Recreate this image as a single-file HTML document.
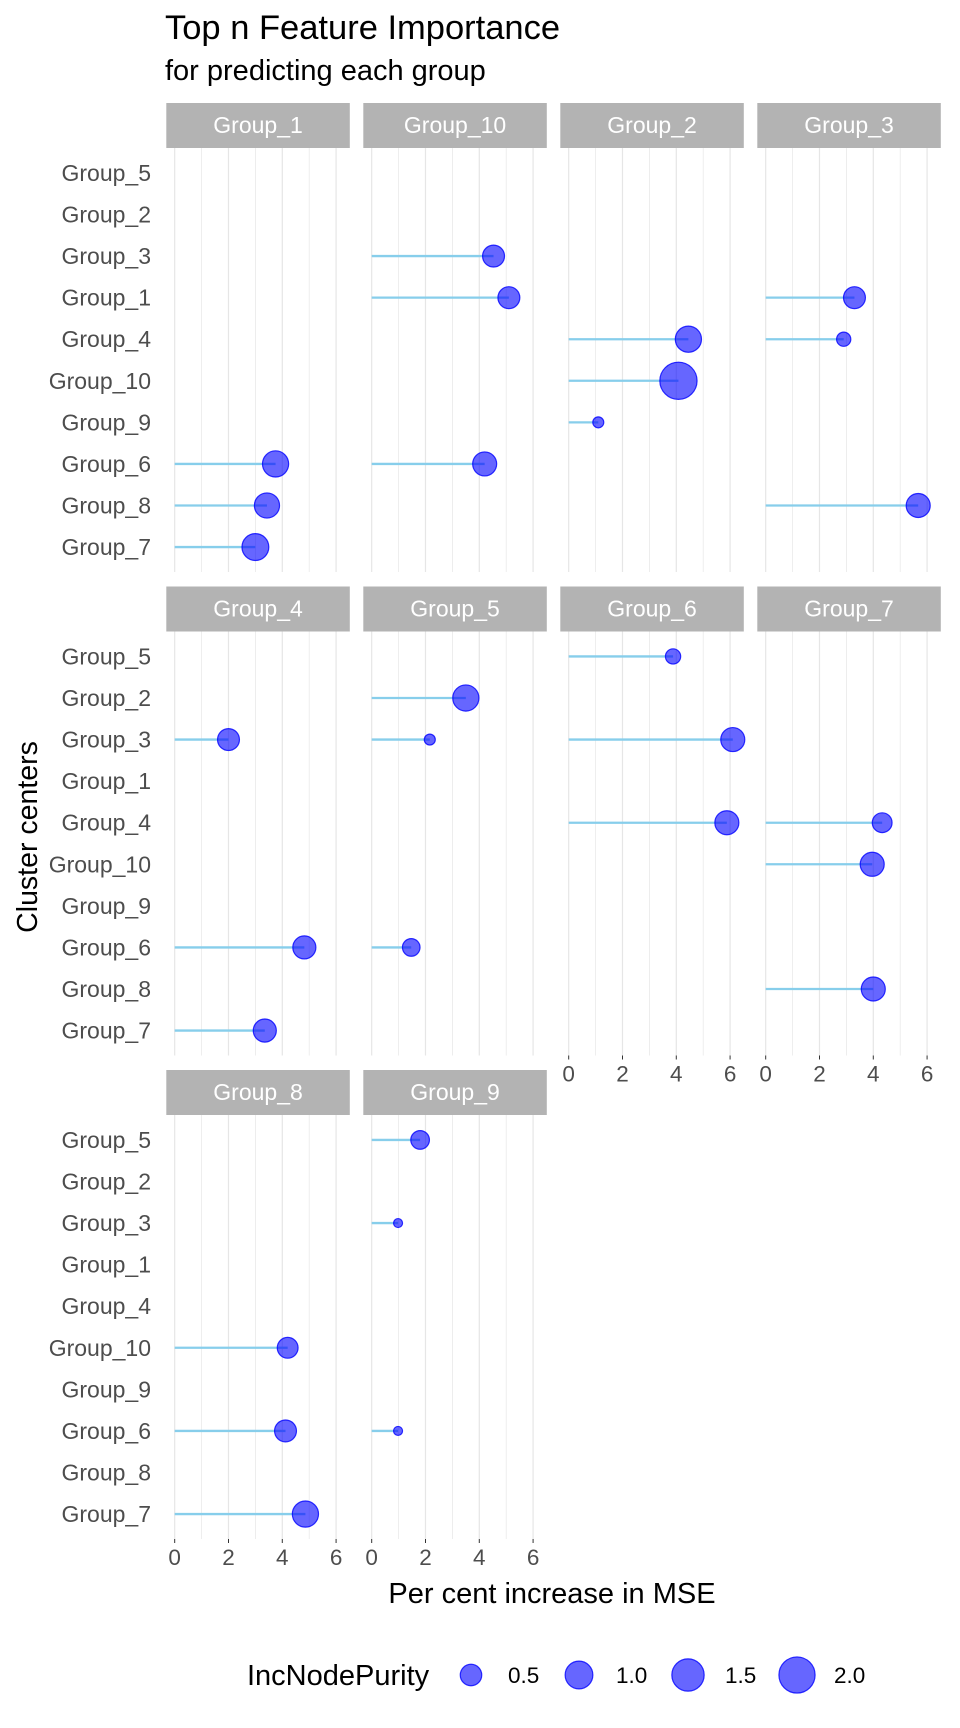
<!DOCTYPE html>
<html><head><meta charset="utf-8"><style>
html,body{margin:0;padding:0;background:#fff;}
svg{display:block;font-family:"Liberation Sans",sans-serif;}
</style></head><body>
<svg id="chart" width="960" height="1728" viewBox="0 0 960 1728" xmlns="http://www.w3.org/2000/svg">
<text x="165" y="39" font-size="34.5" fill="#000">Top n Feature Importance</text>
<text x="165" y="80" font-size="29" fill="#000">for predicting each group</text>
<text transform="translate(37,837) rotate(-90)" text-anchor="middle" font-size="28.5" fill="#000">Cluster centers</text>
<text x="552" y="1603" text-anchor="middle" font-size="29" fill="#000">Per cent increase in MSE</text>
<g id="panels"></g>
<g id="legend"></g>
</svg>
<script>
const categories = ["Group_5","Group_2","Group_3","Group_1","Group_4","Group_10","Group_9","Group_6","Group_8","Group_7"];
const facets = ["Group_1","Group_10","Group_2","Group_3","Group_4","Group_5","Group_6","Group_7","Group_8","Group_9"];
const xTicks = [0,2,4,6];
// per facet: MSE values aligned to categories (null = absent)
const mse = [
  [null,null,null,null,null,null,null,3.75,3.43,3.0],
  [null,null,4.53,5.1,null,null,null,4.2,null,null],
  [null,null,null,null,4.45,4.08,1.1,null,null,null],
  [null,null,null,3.3,2.9,null,null,null,5.67,null],
  [null,null,2.0,null,null,null,null,4.82,null,3.35],
  [null,3.5,2.16,null,null,null,null,1.47,null,null],
  [3.88,null,6.1,null,5.88,null,null,null,null,null],
  [null,null,null,null,4.33,3.96,null,null,4.0,null],
  [null,null,null,null,null,4.2,null,4.12,null,4.86],
  [1.8,null,0.98,null,null,null,null,0.98,null,null]
];
// IncNodePurity per facet
const purity = [
  [null,null,null,null,null,null,null,0.86,0.77,0.92],
  [null,null,0.53,0.53,null,null,null,0.68,null,null],
  [null,null,null,null,0.86,2.15,0.11,null,null,null],
  [null,null,null,0.53,0.17,null,null,null,0.68,null],
  [null,null,0.53,null,null,null,null,0.61,null,0.61],
  [null,0.86,0.11,null,null,null,null,0.29,null,null],
  [0.2,null,0.68,null,0.68,null,null,null,null,null],
  [null,null,null,null,0.4,0.68,null,null,0.68,null],
  [null,null,null,null,null,0.46,null,0.53,null,0.86],
  [0.34,null,0.1,null,null,null,null,0.1,null,null]
];
const legendValues = [0.5,1.0,1.5,2.0];
const legendLabels = ["0.5","1.0","1.5","2.0"];

const NS="http://www.w3.org/2000/svg";
function mk(tag, attrs, parent){const e=document.createElementNS(NS,tag);for(const k in attrs)e.setAttribute(k,attrs[k]);parent.appendChild(e);return e;}
const colLeft=[166.3,363.3,560.3,757.3], rowTop=[103,586.5,1070], pw=183.5, stripH=45, ph=424;
const xMin=-0.312, xMax=6.51;
function xScale(v,left){return left+(v-xMin)/(xMax-xMin)*pw;}
function yPos(i,top){const step=ph/(categories.length-1+1.2);return top+(0.6+i)*step;}
const allP=purity.flat().filter(v=>v!==null);
const pMin=0.1, pMax=Math.max(...allP,2.0);
function rScale(v){const t=Math.max(0,(v-pMin)/(pMax-pMin));return 4.5+14.1*Math.sqrt(t);}
const panels=document.getElementById('panels');
facets.forEach((f,fi)=>{
  const col=fi%4,row=Math.floor(fi/4);
  const left=colLeft[col], st=rowTop[row], top=st+stripH;
  const g=mk('g',{},panels);
  
  
  const strip=mk('rect',{x:left,y:st,width:pw,height:stripH,fill:'#B3B3B3'},g);
  
  
  const stt=mk('text',{x:left+pw/2,y:st+30,'text-anchor':'middle','font-size':23,fill:'#fff'},g);
  stt.textContent=f;
  
  
  for(let v=0;v<=6;v++){
    const x=xScale(v,left);
    const gl=mk('line',{x1:x,x2:x,y1:top,y2:top+ph,stroke:'#E6E6E6','stroke-width':v%2?0.7:1.2},g);
    
    
  }
  const bottom = (row===2) || (row===1 && col>=2);
  if(bottom){
    xTicks.forEach(t=>{
      const x=xScale(t,left);
      mk('line',{x1:x,x2:x,y1:top+ph,y2:top+ph+4,stroke:'#333','stroke-width':1},g);
      const tt=mk('text',{x:x,y:top+ph+26,'text-anchor':'middle','font-size':22.5,fill:'#4D4D4D'},g);
      tt.textContent=t;
      
      
    });
  }
  if(col===0){
    categories.forEach((c,i)=>{
      const t=mk('text',{x:151,y:yPos(i,top)+8,'text-anchor':'end','font-size':23,fill:'#4D4D4D'},g);
      t.textContent=c;
      
      
    });
  }
  mse[fi].forEach((v,i)=>{
    if(v===null)return;
    const y=yPos(i,top), x0=xScale(0,left), x1=xScale(v,left);
    const s=mk('line',{x1:x0,x2:x1,y1:y,y2:y,stroke:'#87CEEB','stroke-width':2.3},g);
    
    
    const c=mk('circle',{cx:x1,cy:y,r:rScale(purity[fi][i]),fill:'rgba(0,0,255,0.6)',stroke:'rgba(0,0,255,0.8)','stroke-width':1.2},g);
    
    
  });
});
const lg=document.getElementById('legend');
const lt=mk('text',{x:247,y:1685,'font-size':29,fill:'#000'},lg);
lt.textContent='IncNodePurity';


const lx=[471,579,688,797];
legendValues.forEach((v,i)=>{
  const c=mk('circle',{cx:lx[i],cy:1675,r:rScale(v),fill:'rgba(0,0,255,0.6)',stroke:'rgba(0,0,255,0.8)','stroke-width':1.2},lg);
  
  
  const t=mk('text',{x:lx[i]+37,y:1683,'font-size':22.5,fill:'#000'},lg);
  t.textContent=legendLabels[i];
  
  
});
</script>
</body></html>
